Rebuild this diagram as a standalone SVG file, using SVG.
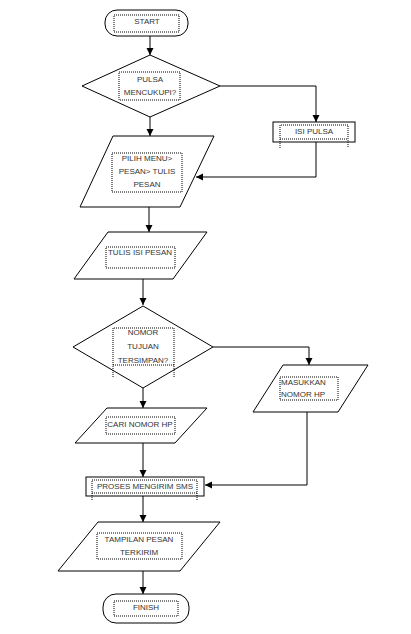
<svg xmlns="http://www.w3.org/2000/svg" width="411" height="634" viewBox="0 0 411 634">
<defs>
<marker id="ah" markerWidth="8" markerHeight="8" refX="7" refY="4" orient="auto" markerUnits="userSpaceOnUse">
<path d="M0,0.5 L7,4 L0,7.5 Z" fill="#000"/>
</marker>
</defs>
<style>
.sh{fill:#fff;stroke:#000;stroke-width:1}
.dot{fill:none;stroke:#000;stroke-width:1;stroke-dasharray:1,1}
.t{font-family:"Liberation Sans",Arial,sans-serif;font-size:8px;fill:#333;text-anchor:middle}
.c{fill:none;stroke:#000;stroke-width:1}
</style>
<rect width="411" height="634" fill="#fff"/>
<g id="connectors">
<line class="c" x1="150" y1="36" x2="150" y2="55" marker-end="url(#ah)"/>
<polyline class="c" points="220,86 316,86 316,122" marker-end="url(#ah)"/>
<line class="c" x1="150" y1="117" x2="150" y2="136" marker-end="url(#ah)"/>
<polyline class="c" points="316,142 316,177 196,177" marker-end="url(#ah)"/>
<line class="c" x1="149" y1="207" x2="149" y2="232" marker-end="url(#ah)"/>
<line class="c" x1="143" y1="279" x2="143" y2="305" marker-end="url(#ah)"/>
<polyline class="c" points="213,347 309,347 309,365" marker-end="url(#ah)"/>
<line class="c" x1="143" y1="388" x2="143" y2="408" marker-end="url(#ah)"/>
<line class="c" x1="143" y1="443" x2="143" y2="477" marker-end="url(#ah)"/>
<polyline class="c" points="307,412 307,485 205,485" marker-end="url(#ah)"/>
<line class="c" x1="143" y1="496" x2="143" y2="522" marker-end="url(#ah)"/>
<line class="c" x1="143" y1="571" x2="143" y2="594" marker-end="url(#ah)"/>
</g>
<g id="start">
<rect class="sh" x="105" y="10" width="83" height="26" rx="12"/>
<rect class="dot" x="114" y="15" width="65" height="17"/>
<text class="t" x="147" y="24">START</text>
</g>
<g id="pulsa">
<polygon class="sh" points="150,55 220,86 150,117 82,86"/>
<rect class="dot" x="119" y="72" width="61" height="28"/>
<text class="t" x="150" y="82">PULSA</text>
<text class="t" x="150" y="95">MENCUKUPI?</text>
</g>
<g id="isipulsa">
<rect class="sh" x="273" y="122" width="82" height="20"/>
<path class="dot" d="M280,148 V125 H348 V148 M280,139 H348"/>
<text class="t" x="314" y="134">ISI PULSA</text>
</g>
<g id="pilihmenu">
<polygon class="sh" points="113,136 214,136 180,207 80,207"/>
<rect class="dot" x="112" y="153" width="70" height="39"/>
<text class="t" x="147" y="161">PILIH MENU&gt;</text>
<text class="t" x="147" y="174">PESAN&gt; TULIS</text>
<text class="t" x="147" y="187">PESAN</text>
</g>
<g id="tulis">
<polygon class="sh" points="108,232 207,232 173,279 74,279"/>
<rect class="dot" x="106" y="247" width="69" height="21"/>
<text class="t" x="140" y="255">TULIS ISI PESAN</text>
</g>
<g id="nomor">
<polygon class="sh" points="143,306 213,347 143,388 73,347"/>
<path class="dot" d="M113,377 V328 H174 V377 M113,365 H174"/>
<text class="t" x="143" y="335">NOMOR</text>
<text class="t" x="143" y="349">TUJUAN</text>
<text class="t" x="143" y="363">TERSIMPAN?</text>
</g>
<g id="masukkan">
<polygon class="sh" points="283,365 368,365 338,412 253,412"/>
<rect class="dot" x="280" y="377" width="58" height="23"/>
<text class="t" x="281" y="385" style="text-anchor:start">MASUKKAN</text>
<text class="t" x="281" y="397" style="text-anchor:start">NOMOR HP</text>
</g>
<g id="cari">
<polygon class="sh" points="107,408 207,408 175,443 75,443"/>
<rect class="dot" x="106" y="417" width="69" height="17"/>
<text class="t" x="140" y="427">CARI NOMOR HP</text>
</g>
<g id="proses">
<rect class="sh" x="86" y="477" width="118" height="19"/>
<path class="dot" d="M92,500 V480 H197 V500 M92,493 H197"/>
<text class="t" x="145" y="489">PROSES MENGIRIM SMS</text>
</g>
<g id="tampilan">
<polygon class="sh" points="98,522 220,522 180,571 58,571"/>
<rect class="dot" x="97" y="533" width="85" height="26"/>
<text class="t" x="139" y="542">TAMPILAN PESAN</text>
<text class="t" x="139" y="555">TERKIRIM</text>
</g>
<g id="finish">
<rect class="sh" x="103" y="594" width="86" height="29" rx="13"/>
<rect class="dot" x="114" y="601" width="64" height="15"/>
<text class="t" x="146" y="610">FINISH</text>
</g>
</svg>
